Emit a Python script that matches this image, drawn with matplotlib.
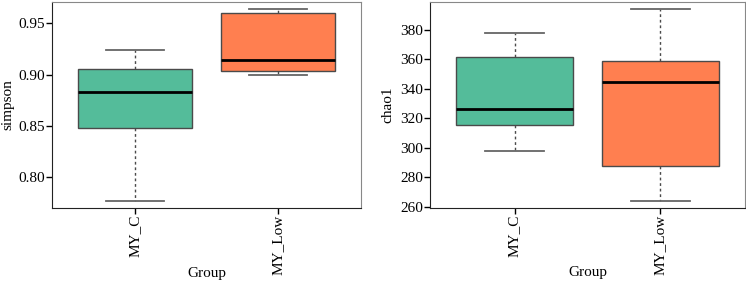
import matplotlib
matplotlib.use("Agg")
import matplotlib.pyplot as plt

plt.rcParams['font.family'] = ['Liberation Serif', 'DejaVu Serif']

groups = ['MY_C', 'MY_Low']
colors = ['#54BC9A', '#FF7F50']

# five-number summaries: low whisker, q1, median, q3, high whisker
simpson_low = [0.776, 0.8996]
simpson_q1 = [0.848, 0.9039]
simpson_med = [0.883, 0.914]
simpson_q3 = [0.9052, 0.9598]
simpson_high = [0.9238, 0.9637]

chao1_low = [298.0, 264.0]
chao1_q1 = [315.5, 287.9]
chao1_med = [326.6, 345.0]
chao1_q3 = [361.8, 358.8]
chao1_high = [378.2, 394.3]

simpson_ticks = [0.80, 0.85, 0.90, 0.95]
chao1_ticks = [260, 280, 300, 320, 340, 360, 380]


def make_stats(lo, q1, med, q3, hi):
    return [dict(whislo=lo[i], q1=q1[i], med=med[i], q3=q3[i], whishi=hi[i],
                 label=groups[i], fliers=[]) for i in range(len(groups))]


def draw(ax, stats, ylabel, ylim, ticks, fmt, ylab_x):
    bp = ax.bxp(stats, positions=[1, 2], widths=0.8, patch_artist=True,
                showfliers=False,
                boxprops=dict(edgecolor='#4a4a4a', linewidth=1.0),
                medianprops=dict(color='black', linewidth=2.0),
                whiskerprops=dict(color='#4a4a4a', linewidth=1.0, linestyle=(0, (2, 2))),
                capprops=dict(color='#666666', linewidth=1.3),
                capwidths=0.4)
    for patch, c in zip(bp['boxes'], colors):
        patch.set_facecolor(c)
    ax.set_xlim(0.42, 2.58)
    ax.set_ylim(*ylim)
    ax.set_yticks(ticks)
    ax.set_yticklabels([fmt.format(t) for t in ticks])
    ax.set_xticks([1, 2])
    ax.set_xticklabels(groups, rotation=90)
    ax.tick_params(axis='both', direction='out', length=4, width=1.0, pad=1,
                   labelsize=11, colors='black')
    ax.set_ylabel(ylabel, fontsize=11, va='center')
    ax.yaxis.set_label_coords(ylab_x, 0.5)
    ax.set_xlabel('Group', fontsize=11, va='center')
    ax.xaxis.set_label_coords(0.5, -0.316)
    for side in ['top', 'right']:
        ax.spines[side].set_color('#888888')
    for side in ['left', 'bottom']:
        ax.spines[side].set_color('#222222')


fig = plt.figure(figsize=(7.46, 2.83), dpi=100)
ax1 = fig.add_axes([0.0697, 0.265, 0.4142, 0.728])
ax2 = fig.add_axes([0.5764, 0.266, 0.4222, 0.727])

draw(ax1, make_stats(simpson_low, simpson_q1, simpson_med, simpson_q3, simpson_high),
     'simpson', (0.7696, 0.9709), simpson_ticks, '{:.2f}', -0.143)
draw(ax2, make_stats(chao1_low, chao1_q1, chao1_med, chao1_q3, chao1_high),
     'chao1', (259.3, 399.0), chao1_ticks, '{:d}', -0.133)

fig.savefig('out.png', dpi=100)
